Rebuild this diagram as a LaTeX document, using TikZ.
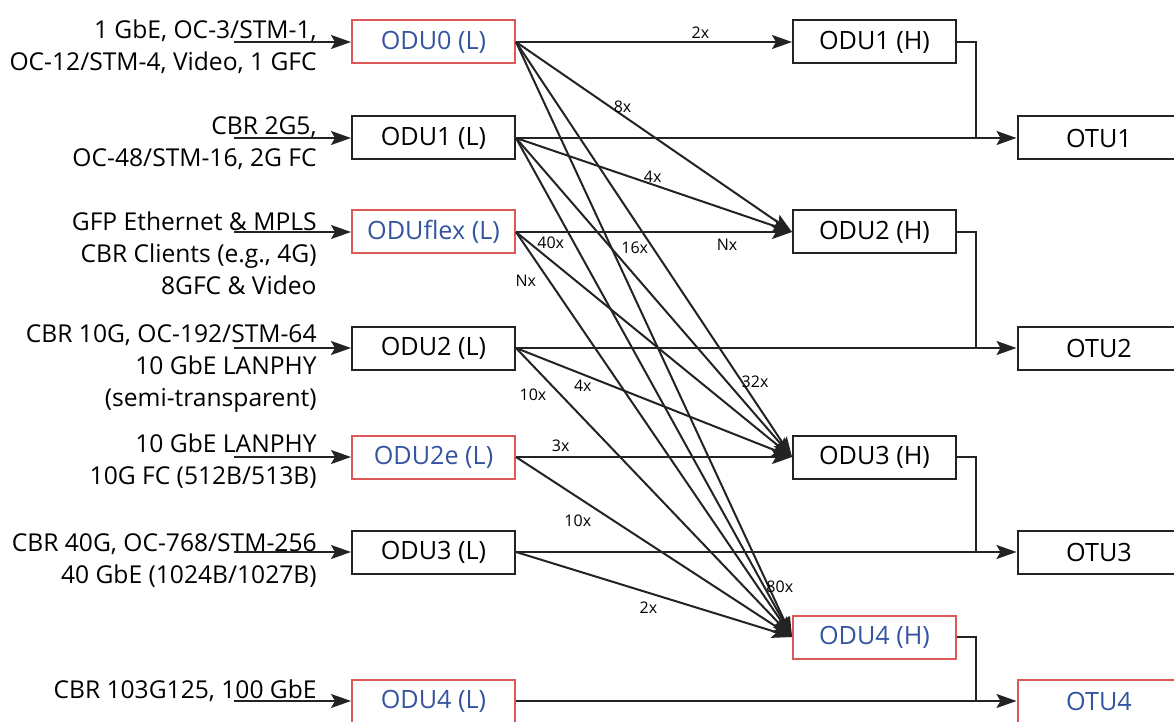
\documentclass[tikz,border=0pt]{standalone}
\usepackage{fontspec}
\setmainfont{Open Sans}
\usetikzlibrary{arrows.meta}

\definecolor{odublue}{RGB}{52,84,160}
\definecolor{odured}{RGB}{222,88,88}
\definecolor{odugray}{RGB}{35,35,35}

\begin{document}
\begin{tikzpicture}[x=0.5pt, y=-0.5pt,
  lbox/.style={draw=odugray, line width=1pt, minimum width=81.5pt, minimum height=21.5pt, inner sep=0pt, font=\fontsize{12.6}{14}\selectfont},
  hot/.style={draw=odured, text=odublue},
  client/.style={anchor=north east, align=right, inner sep=0pt, font=\fontsize{12.3}{16}\selectfont},
  arrow/.style={-{Stealth[length=10pt, width=7pt, inset=2pt]}, line width=1pt, draw=odugray},
  link/.style={line width=1pt, draw=odugray},
  rate/.style={font=\fontsize{8}{9}\selectfont, inner sep=0pt}
]
\useasboundingbox (0,0) rectangle (1174,722);
\clip (0,0) rectangle (1174,722);
% Low order ODUs
\node[lbox, hot] (l0)  at (433.5,42)  {ODU0 (L)};
\node[lbox]      (l1)  at (433.5,138) {ODU1 (L)};
\node[lbox, hot] (lf)  at (433.5,232) {ODUflex (L)};
\node[lbox]      (l2)  at (433.5,348) {ODU2 (L)};
\node[lbox, hot] (l2e) at (433.5,457) {ODU2e (L)};
\node[lbox]      (l3)  at (433.5,552) {ODU3 (L)};
\node[lbox, hot] (l4)  at (433.5,701) {ODU4 (L)};
% High order ODUs
\node[lbox]      (h1) at (874.5,42)  {ODU1 (H)};
\node[lbox]      (h2) at (874.5,232) {ODU2 (H)};
\node[lbox]      (h3) at (874.5,457) {ODU3 (H)};
\node[lbox, hot] (h4) at (874.5,637) {ODU4 (H)};
% OTUs
\node[lbox] (o1) at (1099,138) {OTU1};
\node[lbox] (o2) at (1099,348) {OTU2};
\node[lbox] (o3) at (1099,552) {OTU3};
\node[lbox, hot] (o4) at (1099,701) {OTU4};
% Clients
\node[client] (c0) at (317,19)  {1 GbE, OC-3/STM-1,\\OC-12/STM-4, Video, 1 GFC};
\node[client] (c1) at (317,116) {CBR 2G5,\\OC-48/STM-16, 2G FC};
\node[client] (cf) at (317,211) {GFP Ethernet \& MPLS\\CBR Clients (e.g., 4G)\\8GFC \& Video};
\node[client] (c2) at (317,324) {CBR 10G, OC-192/STM-64\\10 GbE LANPHY\\(semi-transparent)};
\node[client] (ce) at (317,433) {10 GbE LANPHY\\10G FC (512B/513B)};
\node[client] (c3) at (317,533) {CBR 40G, OC-768/STM-256\\40 GbE (1024B/1027B)};
\node[client] (c4) at (317,679) {CBR 103G125, 100 GbE};
% Client inputs
\foreach \n in {l0,l1,lf,l2,l2e,l3,l4}
  \draw[arrow] ([xshift=-58.5pt]\n.west) -- (\n.west);
% Direct mapping into OTUs
\draw[arrow] (l1.east) -- (o1.west);
\draw[arrow] (l2.east) -- (o2.west);
\draw[arrow] (l3.east) -- (o3.west);
\draw[arrow] (l4.east) -- (o4.west);
\draw[link] (h1.east) -| ([xshift=-20.5pt]o1.west);
\draw[link] (h2.east) -| ([xshift=-20.5pt]o2.west);
\draw[link] (h3.east) -| ([xshift=-20.5pt]o3.west);
\draw[link] (h4.east) -| ([xshift=-20.5pt]o4.west);
% Multiplexing
\draw[arrow] (l0.east) -- (h1.west) node[rate, pos=.668, yshift=4.5pt] (r01) {2x};
\draw[arrow] (l0.east) -- (h2.west) node[rate, pos=.386, yshift=4.2pt] (r02) {8x};
\draw[arrow] (l0.east) -- (h3.west) node[rate, pos=.819, xshift=6.5pt] (r03) {32x};
\draw[arrow] (l0.east) -- (h4.west) node[rate, pos=.916, xshift=5.5pt] (r04) {80x};
\draw[arrow] (l1.east) -- (h2.west) node[rate, pos=.495, yshift=3.75pt] (r12) {4x};
\draw[arrow] (l1.east) -- (h3.west) node[rate, pos=.345, xshift=11.75pt] (r13) {16x};
\draw[arrow] (l1.east) -- (h4.west) node[rate, pos=.21, xshift=-11.6pt] (r14) {40x};
\draw[arrow] (lf.east) -- (h2.west) node[rate, pos=.765, yshift=-6.5pt] (rf2) {Nx};
\draw[arrow] (lf.east) -- (h3.west);
\draw[arrow] (lf.east) -- (h4.west) node[rate, pos=.121, xshift=-11.8pt] (rf4) {Nx};
\draw[arrow] (l2.east) -- (h3.west) node[rate, pos=.242, yshift=-5.8pt] (r23) {4x};
\draw[arrow] (l2.east) -- (h4.west) node[rate, pos=.163, xshift=-14pt] (r24) {10x};
\draw[arrow] (l2e.east) -- (h3.west) node[rate, pos=.162, yshift=5.5pt] (re3) {3x};
\draw[arrow] (l2e.east) -- (h4.west) node[rate, pos=.224, yshift=-11.5pt] (re4) {10x};
\draw[arrow] (l3.east) -- (h4.west) node[rate, pos=.48, yshift=-7.6pt] (r34) {2x};
\end{tikzpicture}
\end{document}
